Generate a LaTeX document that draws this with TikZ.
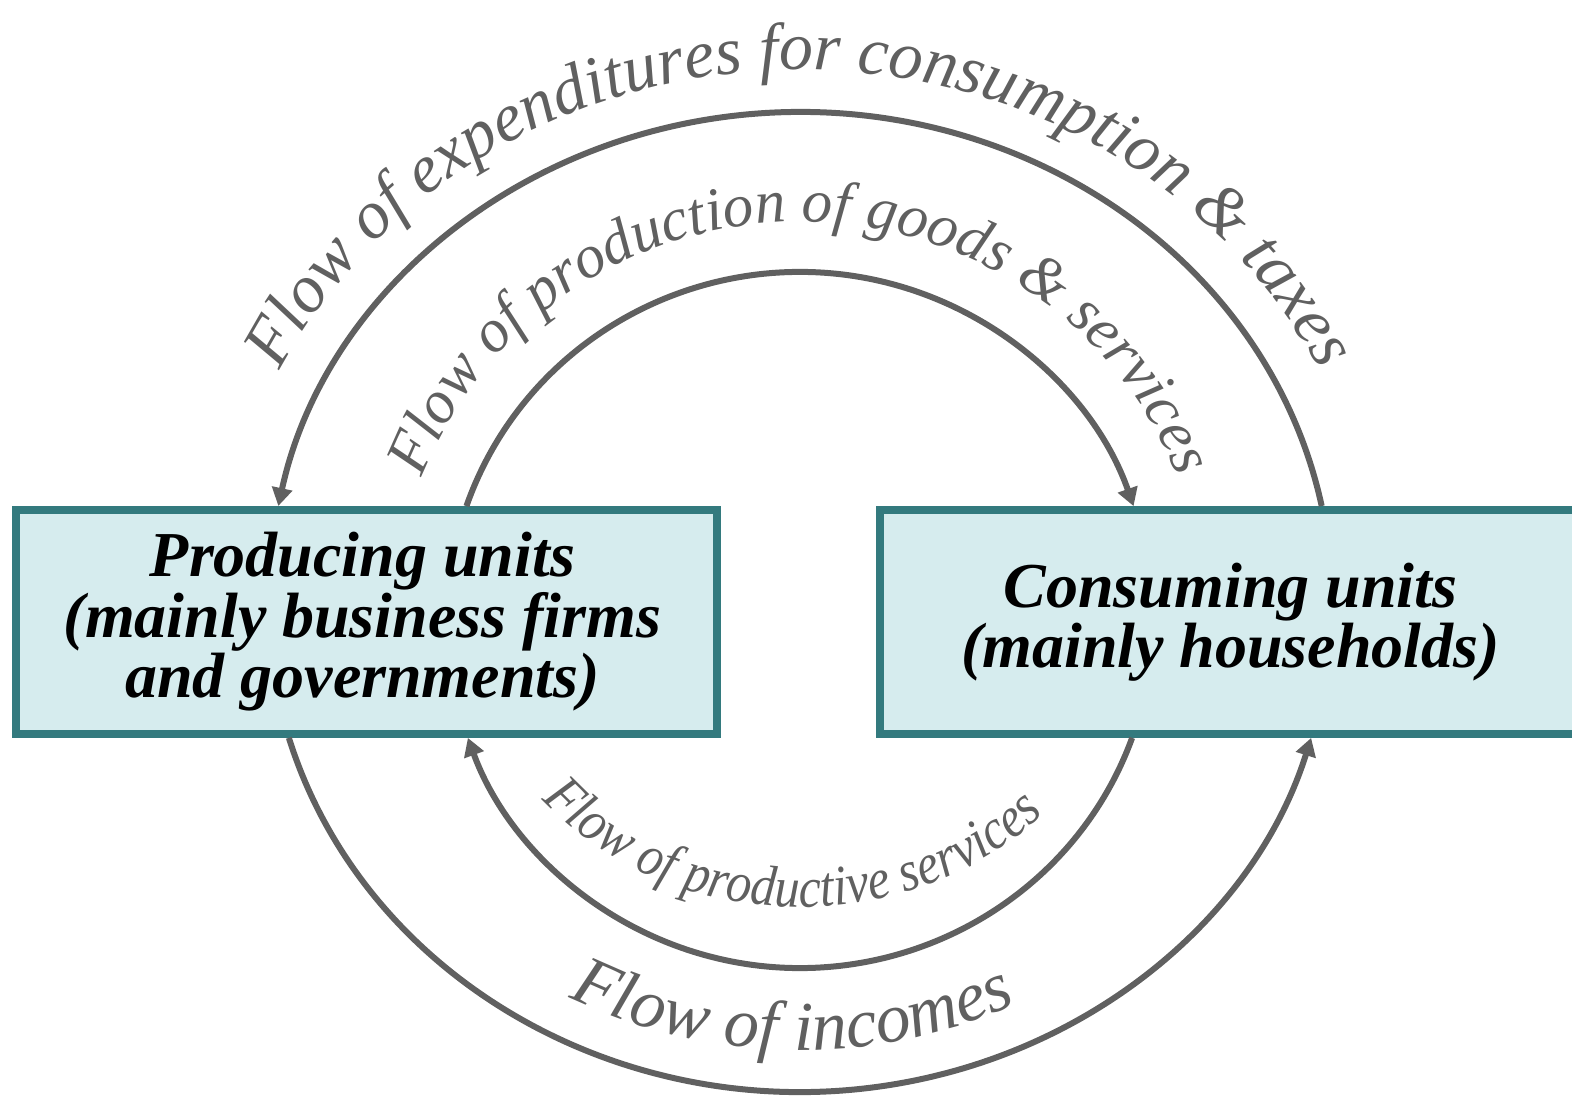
\documentclass[tikz,border=0pt]{standalone}
\usepackage{fontspec}
\setmainfont{Liberation Serif}
\newfontfamily\flowserif{Liberation Serif Italic}
\newfontfamily\narrowserif{Liberation Serif Italic}[FakeStretch=0.88]
\usetikzlibrary{arrows.meta,calc,decorations.text}
\definecolor{unitfill}{HTML}{D6ECEE}
\definecolor{unitline}{HTML}{337A7E}
\definecolor{flowgray}{HTML}{606060}
\newcommand{\flowfont}[1]{\fontsize{#1}{#1}\selectfont\color{flowgray}}
\tikzset{
  unit/.style={draw=unitline, line width=4pt, fill=unitfill, minimum width=350.5pt,
    minimum height=112pt, inner sep=0pt, align=center,
    font=\fontsize{32}{28}\selectfont\bfseries\itshape},
  flow/.style={draw=flowgray, line width=3pt, -{Triangle[length=9pt,width=10pt]}}
}

\begin{document}
\begin{tikzpicture}[x=0.5pt,y=0.5pt]
\useasboundingbox (0,0) rectangle (1572,1103);

\node[unit] (prod) at (366.5,481) {\hspace*{-4pt}Producing units\\\hspace*{-4pt}(mainly business firms\\\hspace*{-4pt}and governments)};
\node[unit] (cons) at (1230.5,481) {Consuming units\\(mainly households)};

\coordinate (outer) at (800,501);
\coordinate (inner) at (800,483);

\coordinate (expS) at ($(outer)+(11.3:532 and 490)$);
\coordinate (goodsS) at ($(inner)+(160.9:353 and 348)$);
\coordinate (servS) at ($(inner)+(340.2:353 and 348)$);
\coordinate (incS) at ($(outer)+(196.1:532 and 490)$);

\draw[flow] (expS) arc[start angle=11.3, end angle=168.7, x radius=532, y radius=490];
\draw[flow] (goodsS) arc[start angle=160.9, end angle=19.1, x radius=353, y radius=348];
\draw[flow] (servS) arc[start angle=340.2, end angle=199.8, x radius=353, y radius=348];
\draw[flow] (incS) arc[start angle=196.1, end angle=343.9, x radius=532, y radius=490];

\coordinate (expT) at ($(outer)+(165:577 and 532)$);
\coordinate (goodsT) at ($(inner)+(165:405 and 398)$);
\coordinate (servT) at ($(inner)+(190:330 and 287)$);
\coordinate (incT) at ($(outer)+(200:490 and 448)$);

\path[decorate, decoration={text along path, text align=center,
  text={|\flowserif\flowfont{34}|Flow of expenditures for consumption {\&} taxes}}]
  (expT) arc[start angle=165, end angle=15, x radius=577, y radius=532];
\path[decorate, decoration={text along path, text align=center,
  text={|\flowserif\flowfont{30.5}|Flow of production of goods {\&} services}}]
  (goodsT) arc[start angle=165, end angle=15, x radius=405, y radius=398];
\path[decorate, decoration={text along path, text align=center,
  text={|\narrowserif\flowfont{28.5}|Flow of productive services}}]
  (servT) arc[start angle=190, end angle=346, x radius=330, y radius=287];
\path[decorate, decoration={text along path, text align=center,
  text={|\flowserif\flowfont{35}|Flow of incomes}}]
  (incT) arc[start angle=200, end angle=338, x radius=490, y radius=448];

\end{tikzpicture}
\end{document}
